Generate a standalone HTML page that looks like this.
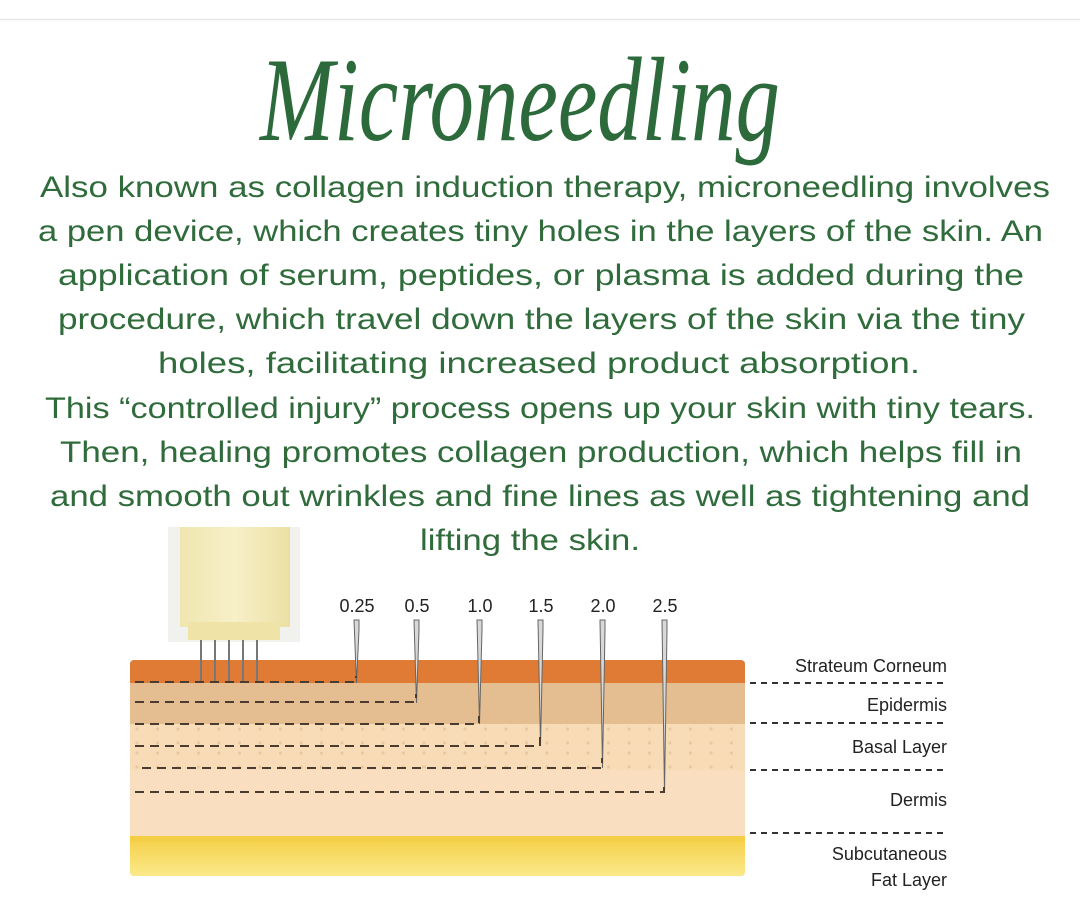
<!DOCTYPE html>
<html><head><meta charset="utf-8"><style>
html,body{margin:0;padding:0;background:#fff;width:1080px;height:922px;overflow:hidden}
</style></head><body>
<svg width="1080" height="922" viewBox="0 0 1080 922" xmlns="http://www.w3.org/2000/svg">
<defs>
<linearGradient id="fat" x1="0" y1="0" x2="0" y2="1"><stop offset="0" stop-color="#f4cf45"/><stop offset="1" stop-color="#fbe98a"/></linearGradient>
<linearGradient id="pen" x1="0" y1="0" x2="1" y2="0"><stop offset="0" stop-color="#efe6b0"/><stop offset="0.5" stop-color="#f7f0c8"/><stop offset="1" stop-color="#ebe0a4"/></linearGradient>
<pattern id="dots" width="20.5" height="24" patternUnits="userSpaceOnUse" x="134" y="726"><circle cx="3" cy="3" r="1.6" fill="#ecc99c"/><circle cx="3" cy="17" r="1.6" fill="#ecc99c"/></pattern>
</defs>
<line x1="0" y1="19.5" x2="1080" y2="19.5" stroke="#e8e8e8" stroke-width="1.5"/>
<text x="520" y="140" text-anchor="middle" font-family="Liberation Serif, serif" font-style="italic" font-size="120" fill="#2d6a3b" textLength="520" lengthAdjust="spacingAndGlyphs">Microneedling</text>
<g font-family="Liberation Sans, sans-serif" font-size="30" fill="#2f6b3b">
<text x="40" y="197" textLength="1010" lengthAdjust="spacingAndGlyphs">Also known as collagen induction therapy, microneedling involves</text>
<text x="38" y="241" textLength="1005" lengthAdjust="spacingAndGlyphs">a pen device, which creates tiny holes in the layers of the skin. An</text>
<text x="58" y="285" textLength="966" lengthAdjust="spacingAndGlyphs">application of serum, peptides, or plasma is added  during the</text>
<text x="58" y="329" textLength="967" lengthAdjust="spacingAndGlyphs">procedure, which travel down the layers of the skin via the tiny</text>
<text x="158" y="373" textLength="762" lengthAdjust="spacingAndGlyphs">holes, facilitating increased product absorption.</text>
<text x="45" y="418" textLength="990" lengthAdjust="spacingAndGlyphs">This “controlled injury” process opens up your skin with tiny tears.</text>
<text x="60" y="462" textLength="962" lengthAdjust="spacingAndGlyphs">Then, healing promotes collagen production, which helps fill in</text>
<text x="50" y="506" textLength="980" lengthAdjust="spacingAndGlyphs">and smooth out wrinkles and fine lines as well as tightening and</text>
<text x="420" y="550" textLength="220" lengthAdjust="spacingAndGlyphs">lifting the skin.</text>
</g>
<!-- pen -->
<rect x="168" y="527" width="132" height="115" fill="#f1f1ee"/>
<rect x="180" y="527" width="110" height="100" fill="url(#pen)"/>
<rect x="188" y="622" width="92" height="18" fill="#efe3a8"/>
<!-- skin -->
<rect x="130" y="660" width="615" height="216" rx="4" fill="#f9dfc0"/>
<rect x="130" y="660" width="615" height="23" rx="4" fill="#e07b36"/>
<rect x="130" y="680" width="615" height="3" fill="#e07b36"/>
<rect x="130" y="683" width="615" height="41" fill="#e4be90"/>
<rect x="130" y="724" width="615" height="46" fill="#f8dcb8"/>
<rect x="130" y="724" width="615" height="46" fill="url(#dots)"/>
<rect x="130" y="836" width="615" height="40" rx="4" fill="url(#fat)"/>
<rect x="130" y="836" width="615" height="6" fill="#f4cf45"/>
<!-- pen needles -->
<g stroke="#777" stroke-width="2">
<line x1="201" y1="640" x2="201" y2="682"/><line x1="215" y1="640" x2="215" y2="682"/><line x1="229" y1="640" x2="229" y2="682"/><line x1="243" y1="640" x2="243" y2="682"/><line x1="257" y1="640" x2="257" y2="682"/>
</g>
<!-- numbers -->
<g font-family="Liberation Sans, sans-serif" font-size="18" fill="#222" text-anchor="middle">
<text x="357" y="612">0.25</text><text x="417" y="612">0.5</text><text x="480" y="612">1.0</text><text x="541" y="612">1.5</text><text x="603" y="612">2.0</text><text x="665" y="612">2.5</text>
</g>
<!-- needles -->
<g fill="#d8d8d8" stroke="#666" stroke-width="1">
<path d="M354,620 h5 v10 l-2.5,53 z"/>
<path d="M414,620 h5 v10 l-2.5,73 z"/>
<path d="M477,620 h5 v10 l-2.5,94 z"/>
<path d="M538,620 h5 v10 l-2.5,116 z"/>
<path d="M600,620 h5 v10 l-2.5,138 z"/>
<path d="M662,620 h5 v10 l-2.5,163 z"/>
</g>
<!-- dashed depth lines -->
<g stroke="#4a3c30" stroke-width="2" stroke-dasharray="9,6" fill="none">
<polyline points="135,682 356,682 356,676"/>
<polyline points="135,702 416,702 416,694"/>
<polyline points="135,724 479,724 479,716"/>
<polyline points="135,746 540,746 540,736"/>
<polyline points="142,768 602,768 602,758"/>
<polyline points="135,792 664,792 664,782"/>
</g>
<!-- right dashed lines -->
<g stroke="#333" stroke-width="2" stroke-dasharray="6,5">
<line x1="750" y1="683" x2="948" y2="683"/>
<line x1="750" y1="723" x2="948" y2="723"/>
<line x1="750" y1="770" x2="948" y2="770"/>
<line x1="750" y1="833" x2="948" y2="833"/>
</g>
<g font-family="Liberation Sans, sans-serif" font-size="18" fill="#222" text-anchor="end">
<text x="947" y="672">Strateum Corneum</text>
<text x="947" y="711">Epidermis</text>
<text x="947" y="753">Basal Layer</text>
<text x="947" y="806">Dermis</text>
<text x="947" y="860">Subcutaneous</text>
<text x="947" y="886">Fat Layer</text>
</g>
</svg>
</body></html>
